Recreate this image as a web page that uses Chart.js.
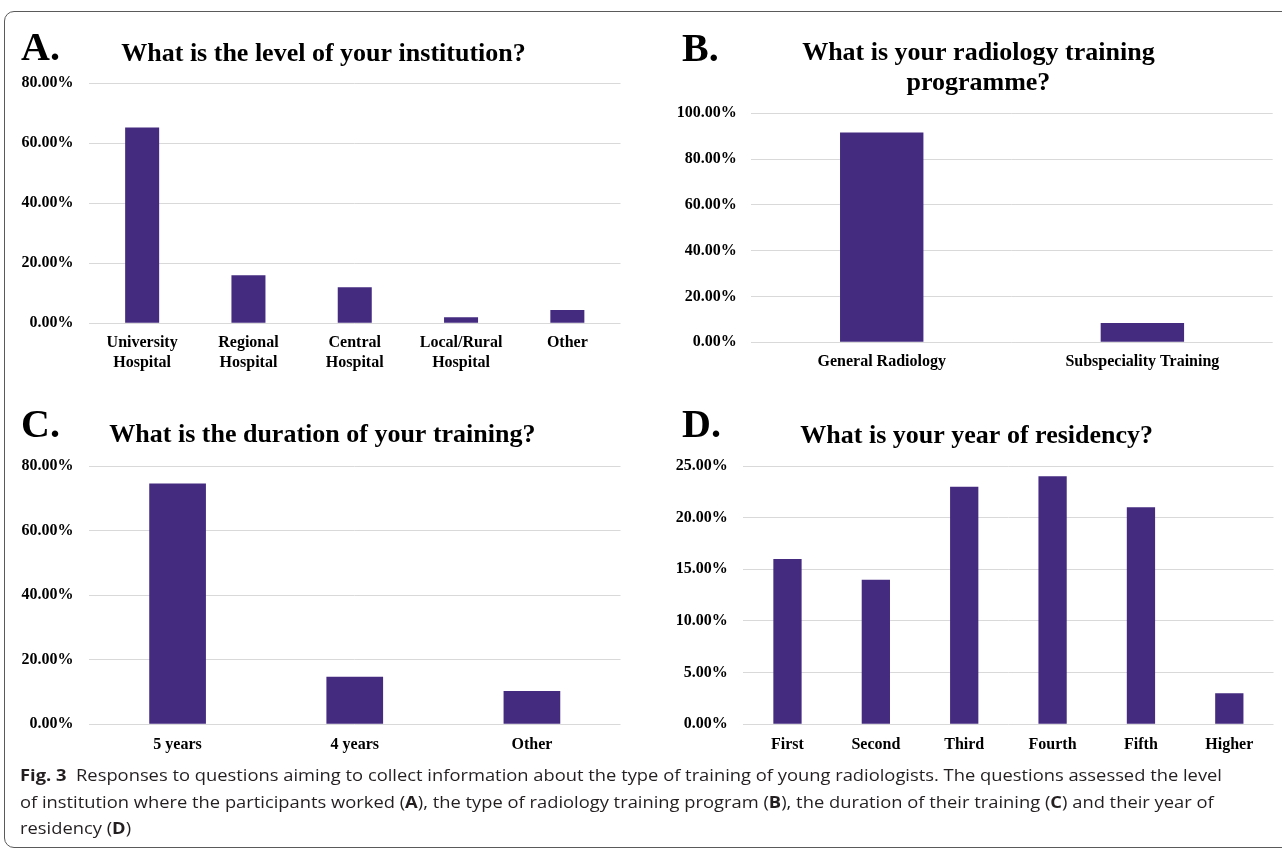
<!DOCTYPE html>
<html><head><meta charset="utf-8">
<script src="https://cdn.jsdelivr.net/npm/chart.js@4.4.1/dist/chart.umd.min.js"></script>
<style>
html,body{margin:0;padding:0;background:#fff;}
body{width:1282px;height:850px;position:relative;overflow:hidden;}
#frame{position:absolute;left:4px;top:11px;width:1320px;height:837px;border:1.5px solid #5a5a5a;border-radius:10px;box-sizing:border-box;}
.panel{position:absolute;}
.panel canvas{display:block;}
.tag{position:absolute;font-family:'Liberation Serif','Times New Roman',serif;font-weight:bold;font-size:40px;line-height:40px;color:#000;}
#caption{position:absolute;left:20px;top:762px;font-family:'Open Sans',sans-serif;font-size:16.5px;line-height:26.7px;color:#231f20;white-space:nowrap;transform-origin:0 0;}
#caption b{font-weight:700;}
</style></head>
<body>
<div id="frame"></div>
<div class="panel" id="pA"><canvas></canvas></div>
<div class="panel" id="pB"><canvas></canvas></div>
<div class="panel" id="pC"><canvas></canvas></div>
<div class="panel" id="pD"><canvas></canvas></div>
<div class="tag" style="left:21px;top:27px">A.</div>
<div class="tag" style="left:682px;top:27.5px">B.</div>
<div class="tag" style="left:21px;top:403.5px">C.</div>
<div class="tag" style="left:682px;top:403.5px">D.</div>
<div id="caption"><span id="cl1"><b>Fig. 3</b>&nbsp; Responses to questions aiming to collect information about the type of training of young radiologists. The questions assessed the level</span><br>of institution where the participants worked (<b>A</b>), the type of radiology training program (<b>B</b>), the duration of their training (<b>C</b>) and their year of<br>residency (<b>D</b>)</div>
<script>
// ---- data ----
const titleA = ['What is the level of your institution?'];
const categoriesA = [['University','Hospital'], ['Regional','Hospital'], ['Central','Hospital'], ['Local/Rural','Hospital'], 'Other'];
const valuesA = [65.3, 16.0, 12.0, 2.0, 4.4];
const yTicksA = [0, 20, 40, 60, 80];

const titleB = ['What is your radiology training', 'programme?'];
const categoriesB = ['General Radiology', 'Subspeciality Training'];
const valuesB = [91.6, 8.4];
const yTicksB = [0, 20, 40, 60, 80, 100];

const titleC = ['What is the duration of your training?'];
const categoriesC = ['5 years', '4 years', 'Other'];
const valuesC = [74.6, 14.7, 10.3];
const yTicksC = [0, 20, 40, 60, 80];

const titleD = ['What is your year of residency?'];
const categoriesD = ['First', 'Second', 'Third', 'Fourth', 'Fifth', 'Higher'];
const valuesD = [16, 14, 23, 24, 21, 3];
const yTicksD = [0, 5, 10, 15, 20, 25];

// ---- styling / layout ----
const BAR = '#442b80';
const SERIF = "'Liberation Serif','Times New Roman',serif";
const TFS = 26, TLH = 30 / 26;

const titleShift = {
  id: 'titleShift',
  afterLayout(chart, args, opts) {
    const tb = chart.titleBlock;
    if (tb && opts.dx) { tb.left += opts.dx; tb.right += opts.dx; }
  }
};

function panel(id, g, titleLines, labels, values, yTicks) {
  const el = document.getElementById(id);
  const W = g.R - g.L, H = g.B - g.T;
  el.style.left = g.L + 'px'; el.style.top = g.T + 'px';
  el.style.width = W + 'px'; el.style.height = H + 'px';
  const pR = g.R - g.plotR;
  const yW = g.plotL - g.L;
  const dx = g.titleCx - (g.L + g.plotR) / 2;
  const lh = TLH * TFS;
  const padTop = g.titleC1 - g.T - lh / 2;
  const padBottom = g.plotT - g.T - padTop - titleLines.length * lh;
  const xH = g.B - g.plotB;
  const tickFont = {family: SERIF, size: 16, weight: 'bold', lineHeight: 1.25};
  new Chart(el.querySelector('canvas'), {
    type: 'bar',
    data: {labels: labels, datasets: [{data: values, backgroundColor: BAR, borderWidth: 0, barPercentage: 0.32, categoryPercentage: 1}]},
    plugins: [titleShift],
    options: {
      responsive: true, maintainAspectRatio: false, animation: false,
      layout: {padding: {left: 0, right: pR, top: 0, bottom: 0}},
      plugins: {
        legend: {display: false}, tooltip: {enabled: false},
        titleShift: {dx: dx},
        title: {display: true, text: titleLines, color: '#000',
          font: {family: SERIF, size: TFS, weight: 'bold', lineHeight: TLH},
          padding: {top: padTop, bottom: padBottom}}
      },
      scales: {
        x: {grid: {display: false, drawTicks: false}, border: {display: false},
            ticks: {color: '#000', font: tickFont, padding: g.xPad, maxRotation: 0, autoSkip: false},
            afterFit: s => { s.height = xH; }},
        y: {min: yTicks[0], max: yTicks[yTicks.length - 1],
            grid: {color: '#d9d9d9', lineWidth: 1, drawTicks: false}, border: {display: false},
            afterBuildTicks: s => { s.ticks = yTicks.map(v => ({value: v})); },
            ticks: {color: '#000', font: tickFont, padding: g.yPad, callback: v => Number(v).toFixed(2) + '%'},
            afterFit: s => { s.width = yW; }}
      }
    }
  });
}

function build() {
  panel('pA', {L: 8, R: 630, T: 30, B: 385, plotL: 89, plotR: 620.5, plotT: 83.3, plotB: 323.3, titleCx: 323.5, titleC1: 54, xPad: 9.5, yPad: 15.5}, titleA, categoriesA, valuesA, yTicksA);
  panel('pB', {L: 662, R: 1281, T: 30, B: 385, plotL: 751.4, plotR: 1272.7, plotT: 113.3, plotB: 342.3, titleCx: 978.4, titleC1: 53.5, xPad: 10, yPad: 14.7}, titleB, categoriesB, valuesB, yTicksB);
  panel('pC', {L: 8, R: 630, T: 400, B: 770, plotL: 89, plotR: 620.5, plotT: 466, plotB: 724.3, titleCx: 322.4, titleC1: 435.5, xPad: 10.5, yPad: 15.5}, titleC, categoriesC, valuesC, yTicksC);
  panel('pD', {L: 662, R: 1281, T: 400, B: 770, plotL: 743.3, plotR: 1273.5, plotT: 466, plotB: 724.3, titleCx: 976.7, titleC1: 436, xPad: 10.5, yPad: 15.5}, titleD, categoriesD, valuesD, yTicksD);
  const cap = document.getElementById('caption');
  const w1 = document.getElementById('cl1').getBoundingClientRect().width;
  cap.style.transform = 'scaleX(' + (1202 / w1) + ')';
}
if (document.fonts && document.fonts.ready) { document.fonts.ready.then(build); } else { build(); }
</script>
</body></html>
